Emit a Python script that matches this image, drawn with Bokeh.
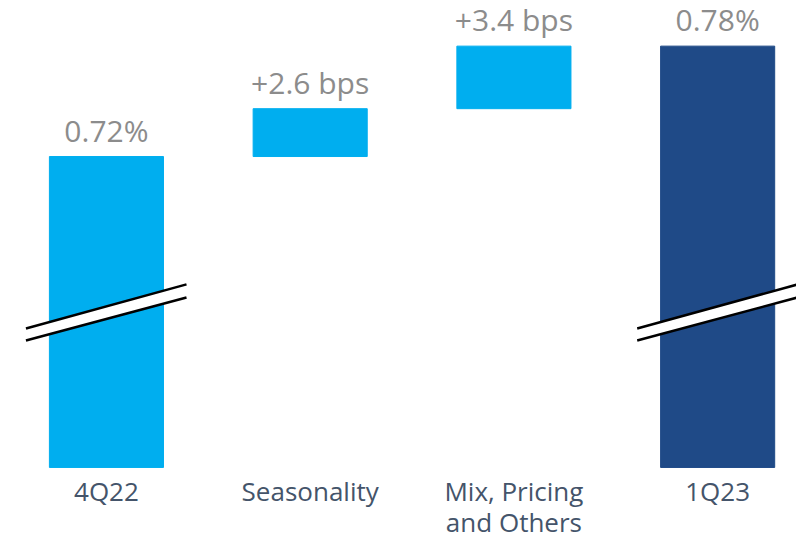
from bokeh.plotting import figure
from bokeh.models import Range1d, ColumnDataSource
from bokeh.embed import file_html
from bokeh.resources import INLINE
from bokeh.core.properties import value

# ---- data (bps) ----
categories = ["4Q22", "Seasonality", "Mix, Pricing\nand Others", "1Q23"]
start_bps = 72.0          # 0.72%
deltas_bps = [2.6, 3.4]   # Seasonality, Mix/Pricing/Others
end_bps = 78.0            # 0.78%
value_labels = ["0.72%", "+2.6 bps", "+3.4 bps", "0.78%"]
bar_colors = ["#00AEEF", "#00AEEF", "#00AEEF", "#1F4A87"]

# visual axis break: bars of totals start at this value
break_base = 55.1

# ---- waterfall geometry ----
x = list(range(len(categories)))
bottoms = [break_base, start_bps, start_bps + deltas_bps[0], break_base]
tops = [start_bps, start_bps + deltas_bps[0], start_bps + deltas_bps[0] + deltas_bps[1], end_bps]

p = figure(width=796, height=540, output_backend="svg", toolbar_location=None,
           x_range=Range1d(-0.52, 3.387), y_range=Range1d(51.13, 80.48),
           min_border=0, outline_line_color=None, background_fill_color="white",
           border_fill_color="white")
p.axis.visible = False
p.grid.visible = False

src = ColumnDataSource(dict(x=x, bottom=bottoms, top=tops, color=bar_colors,
                            label=value_labels, cat=categories))
p.vbar(x="x", bottom="bottom", top="top", width=0.56, color="color", source=src)

# value labels above bars
px_per_unit = 18.4
p.text(x=x, y=[t + 6 / px_per_unit for t in tops], text=value_labels,
       text_align="center", text_baseline="bottom", text_font=value("Open Sans"),
       text_font_size="30px", text_color="#8C8C8C")

# category labels under the baseline
p.text(x=x, y=[break_base - 6 / px_per_unit] * len(x), text=categories,
       text_align="center", text_baseline="top", text_font=value("Open Sans"),
       text_font_size="26px", text_color="#44546A", text_line_height=0.85)

# axis break marks on the total bars
brk_idx = [0, 3]
xs, ys = [], []
l_off, r_off = -0.395, 0.393
y_ul, y_ur, y_ll, y_lr = 62.65, 65.05, 62.0, 64.34
for i in brk_idx:
    xs.append([i + l_off, i + r_off, i + r_off, i + l_off])
    ys.append([y_ul, y_ur, y_lr, y_ll])
p.patches(xs, ys, fill_color="white", line_color=None)
p.multi_line([[i + l_off, i + r_off] for i in brk_idx], [[y_ul, y_ur] for _ in brk_idx],
             line_color="black", line_width=2.5)
p.multi_line([[i + l_off, i + r_off] for i in brk_idx], [[y_ll, y_lr] for _ in brk_idx],
             line_color="black", line_width=2.5)

open("out.html", "w").write(file_html(p, INLINE))
